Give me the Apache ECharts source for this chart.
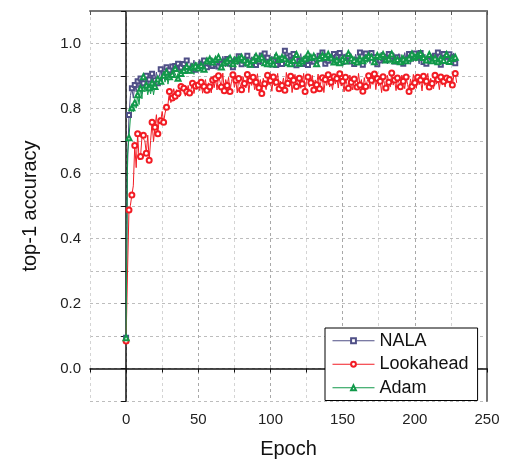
<!DOCTYPE html>
<html><head><meta charset="utf-8">
<script src="https://cdn.jsdelivr.net/npm/echarts@6/dist/echarts.min.js"></script>
<style>html,body{margin:0;padding:0;background:#fff}#c{width:512px;height:464px}</style>
</head><body><div id="c"></div>
<script>
const seriesNames = ['NALA', 'Lookahead', 'Adam'];
const xTickLabels = ['0', '50', '100', '150', '200', '250'];
const yTickLabels = ['0.0', '0.2', '0.4', '0.6', '0.8', '1.0'];

const nala = [0.095,0.62,0.78,0.84,0.862,0.832,0.872,0.851,0.884,0.858,
0.892,0.846,0.878,0.869,0.901,0.858,0.889,0.876,0.907,0.866,
0.887,0.912,0.878,0.899,0.921,0.884,0.908,0.896,0.927,0.901,
0.918,0.906,0.929,0.897,0.931,0.914,0.938,0.906,0.926,0.918,
0.937,0.915,0.948,0.928,0.917,0.941,0.926,0.949,0.919,0.936,
0.928,0.951,0.937,0.921,0.948,0.935,0.927,0.952,0.938,0.957,
0.931,0.949,0.936,0.958,0.929,0.946,0.938,0.961,0.944,0.928,
0.952,0.963,0.938,0.949,0.927,0.958,0.946,0.935,0.961,0.947,
0.936,0.957,0.948,0.928,0.962,0.944,0.935,0.959,0.947,0.968,
0.934,0.958,0.945,0.937,0.963,0.949,0.969,0.938,0.956,0.944,
0.936,0.961,0.947,0.967,0.934,0.958,0.946,0.962,0.937,0.955,
0.978,0.943,0.958,0.936,0.962,0.947,0.968,0.944,0.933,0.959,
0.946,0.969,0.937,0.957,0.945,0.962,0.934,0.971,0.948,0.958,
0.944,0.967,0.951,0.936,0.962,0.947,0.972,0.956,0.938,0.961,
0.947,0.969,0.955,0.941,0.968,0.935,0.959,0.946,0.971,0.954,
0.943,0.968,0.957,0.936,0.961,0.973,0.945,0.958,0.937,0.967,
0.948,0.959,0.972,0.944,0.935,0.962,0.969,0.947,0.957,0.938,
0.971,0.946,0.958,0.967,0.936,0.961,0.948,0.973,0.955,0.942,
0.959,0.937,0.968,0.948,0.961,0.972,0.945,0.936,0.958,0.969,
0.947,0.961,0.938,0.972,0.949,0.957,0.968,0.936,0.962,0.944,
0.969,0.947,0.958,0.937,0.971,0.955,0.943,0.967,0.938,0.961,
0.948,0.969,0.956,0.937,0.962,0.945,0.972,0.953,0.935,0.948,
0.968,0.944,0.959,0.936,0.967,0.946,0.958,0.971,0.939,0.952];

const lookahead = [0.085,0.30,0.488,0.502,0.534,0.562,0.686,0.618,0.722,0.642,
0.652,0.712,0.718,0.701,0.662,0.718,0.641,0.702,0.758,0.698,
0.742,0.781,0.722,0.772,0.762,0.791,0.758,0.786,0.804,0.812,
0.852,0.818,0.832,0.861,0.838,0.858,0.847,0.836,0.868,0.855,
0.862,0.838,0.852,0.871,0.848,0.859,0.878,0.846,0.869,0.858,
0.872,0.855,0.881,0.847,0.868,0.889,0.856,0.879,0.867,0.848,
0.888,0.864,0.892,0.857,0.901,0.884,0.866,0.909,0.855,0.889,
0.871,0.896,0.852,0.883,0.904,0.865,0.887,0.848,0.892,0.874,
0.858,0.898,0.877,0.863,0.905,0.849,0.886,0.871,0.896,0.858,
0.881,0.907,0.864,0.889,0.846,0.893,0.876,0.858,0.902,0.872,
0.886,0.853,0.897,0.869,0.881,0.908,0.861,0.884,0.871,0.894,
0.856,0.911,0.878,0.866,0.899,0.849,0.887,0.905,0.868,0.881,
0.893,0.862,0.876,0.908,0.852,0.884,0.897,0.866,0.879,0.902,
0.857,0.888,0.873,0.906,0.861,0.883,0.895,0.849,0.889,0.871,
0.904,0.866,0.881,0.858,0.898,0.876,0.892,0.863,0.907,0.869,
0.884,0.851,0.896,0.874,0.862,0.903,0.881,0.857,0.891,0.877,
0.866,0.908,0.872,0.889,0.853,0.895,0.868,0.883,0.901,0.861,
0.887,0.874,0.906,0.858,0.892,0.869,0.884,0.849,0.898,0.876,
0.863,0.902,0.881,0.866,0.909,0.872,0.888,0.855,0.894,0.879,
0.867,0.903,0.884,0.861,0.897,0.874,0.852,0.891,0.868,0.905,
0.879,0.862,0.896,0.873,0.888,0.854,0.899,0.871,0.884,0.908,
0.866,0.893,0.877,0.861,0.902,0.875,0.889,0.858,0.897,0.872,
0.884,0.866,0.894,0.878,0.889,0.896,0.872,0.901,0.908,0.879];

const adam = [0.095,0.66,0.71,0.772,0.802,0.79,0.818,0.801,0.842,0.812,
0.862,0.83,0.898,0.851,0.872,0.842,0.864,0.845,0.879,0.842,
0.868,0.859,0.891,0.872,0.884,0.893,0.902,0.881,0.912,0.875,
0.898,0.889,0.905,0.918,0.923,0.896,0.893,0.921,0.908,0.931,
0.917,0.948,0.929,0.913,0.918,0.938,0.927,0.905,0.931,0.942,
0.925,0.944,0.932,0.951,0.921,0.938,0.946,0.929,0.952,0.941,
0.943,0.928,0.951,0.937,0.958,0.933,0.928,0.949,0.941,0.957,
0.946,0.931,0.955,0.942,0.938,0.961,0.947,0.936,0.953,0.944,
0.958,0.937,0.949,0.962,0.941,0.953,0.936,0.957,0.948,0.939,
0.961,0.945,0.952,0.934,0.958,0.947,0.941,0.963,0.938,0.951,
0.946,0.959,0.937,0.954,0.962,0.942,0.951,0.938,0.957,0.946,
0.953,0.964,0.941,0.955,0.938,0.961,0.948,0.943,0.966,0.951,
0.939,0.957,0.946,0.962,0.953,0.941,0.968,0.949,0.957,0.944,
0.961,0.951,0.938,0.966,0.955,0.946,0.963,0.942,0.958,0.951,
0.967,0.944,0.956,0.962,0.943,0.958,0.949,0.968,0.941,0.959,
0.952,0.963,0.946,0.958,0.969,0.944,0.955,0.962,0.948,0.957,
0.943,0.966,0.952,0.958,0.947,0.969,0.955,0.941,0.962,0.951,
0.958,0.967,0.944,0.956,0.963,0.948,0.959,0.942,0.966,0.954,
0.949,0.962,0.953,0.941,0.968,0.955,0.947,0.963,0.951,0.958,
0.944,0.966,0.952,0.959,0.947,0.963,0.955,0.942,0.968,0.953,
0.958,0.946,0.963,0.952,0.969,0.944,0.957,0.962,0.949,0.958,
0.966,0.951,0.947,0.962,0.955,0.968,0.944,0.959,0.953,0.963,
0.948,0.957,0.966,0.951,0.945,0.961,0.954,0.949,0.958,0.952];

const FONT = '"Liberation Sans", Arial, sans-serif';

function buildData(vals) {
  return vals.map((v, i) => (i % 2 === 0 ? [i, v] : { value: [i, v], symbol: 'none' }));
}

function mkSeries(name, vals, color, sym, size) {
  return {
    name: name, type: 'line', data: buildData(vals),
    symbol: sym, symbolSize: size, showAllSymbol: true,
    lineStyle: { color: color, width: 1 },
    itemStyle: { color: color, borderColor: color, borderWidth: 1 },
    emphasis: { disabled: true }, animation: false
  };
}

const chart = echarts.init(document.getElementById('c'), null, { renderer: 'canvas' });
chart.setOption({
  animation: false,
  textStyle: { fontFamily: FONT },
  grid: { left: 90, right: 25, top: 11, bottom: 57 },
  legend: {
    orient: 'vertical', left: 325, top: 328,
    data: seriesNames,
    borderColor: '#000', borderWidth: 1, backgroundColor: '#fff',
    padding: [3, 9, 3, 7], itemGap: 4, itemWidth: 42, itemHeight: 6,
    lineStyle: { width: 1 },
    textStyle: { fontSize: 18, lineHeight: 19.5, color: '#111', fontFamily: FONT }
  },
  xAxis: [{
    type: 'value', min: -25, max: 250, interval: 25,
    name: 'Epoch', nameLocation: 'middle', nameGap: 38,
    nameTextStyle: { fontSize: 20, color: '#111', fontFamily: FONT },
    axisLine: { lineStyle: { color: '#111', width: 1.5 } },
    axisTick: { show: true, length: 4, lineStyle: { color: '#111' } },
    axisLabel: { fontSize: 15, color: '#222', margin: 11,
      formatter: v => (xTickLabels.indexOf(String(v)) >= 0 ? String(v) : '') },
    splitLine: { show: true, lineStyle: { color: ['#d4d4d4', '#a8a8a8'], type: [3, 3], width: 1 } }
  }, {
    type: 'value', min: -25, max: 250, interval: 25, position: 'top',
    axisLine: { show: true, onZero: false, lineStyle: { color: '#777', width: 2 } },
    axisTick: { show: true, inside: true, length: 4, lineStyle: { color: '#555' } },
    axisLabel: { show: false }, splitLine: { show: false }
  }],
  yAxis: [{
    type: 'value', min: -0.1, max: 1.1, interval: 0.1,
    name: 'top-1 accuracy', nameLocation: 'middle', nameGap: 50,
    nameTextStyle: { fontSize: 20, color: '#111', fontFamily: FONT },
    axisLine: { show: true, lineStyle: { color: '#111', width: 1.5 } },
    axisTick: { show: true, length: 5, lineStyle: { color: '#111' } },
    axisLabel: { fontSize: 15, color: '#222', margin: 9,
      formatter: v => { const s = (Math.abs(v) < 1e-9 ? 0 : v).toFixed(1); return yTickLabels.indexOf(s) >= 0 ? s : ''; } },
    splitLine: { show: true, lineStyle: { color: '#bdbdbd', type: [3, 3], width: 1 } }
  }, {
    type: 'value', min: -0.1, max: 1.1, interval: 0.1, position: 'right',
    axisLine: { show: true, onZero: false, lineStyle: { color: '#777', width: 2 } },
    axisTick: { show: false }, axisLabel: { show: false }, splitLine: { show: false }
  }],
  series: [
    mkSeries(seriesNames[0], nala, '#4f4f86', 'emptyRect', 4),
    mkSeries(seriesNames[1], lookahead, '#f21c24', 'emptyCircle', 5),
    mkSeries(seriesNames[2], adam, '#11994a', 'emptyTriangle', 5)
  ]
});
</script>
</body></html>
